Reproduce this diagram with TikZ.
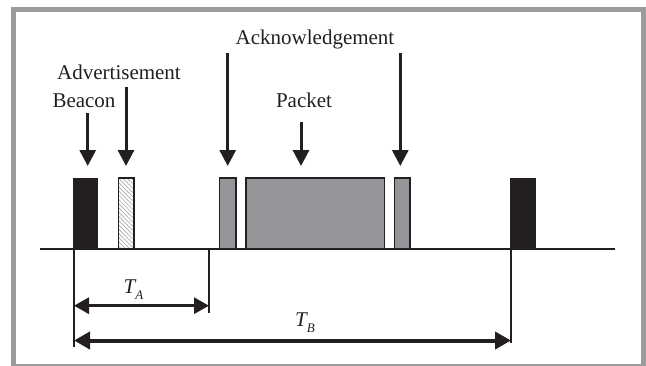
\documentclass[tikz,border=0pt]{standalone}
\usepackage{fontspec}
\setmainfont{Liberation Serif}
\usetikzlibrary{arrows.meta,patterns.meta}
\definecolor{ink}{HTML}{231F20}
\definecolor{slotgray}{HTML}{939598}
\definecolor{framegray}{HTML}{9B9B9B}
\definecolor{hatchgray}{HTML}{A7A9AC}
\tikzset{
  x=1pt, y=-1pt,
  txt/.style={inner sep=0, anchor=base, text=ink, font=\fontsize{21}{25}\selectfont},
  blockbase/.style={inner sep=0, outer sep=0, anchor=south west, minimum height=71},
  beaconbox/.style={blockbase, draw=ink, fill=ink, line width=0.8pt},
  advbox/.style={blockbase, draw=ink, line width=1.5pt,
    pattern={Lines[angle=-45,distance=3pt,line width=0.7pt]}, pattern color=hatchgray},
  slotbox/.style={blockbase, draw=ink, fill=slotgray, line width=1.5pt},
  downarrow/.style={draw=ink, line width=3pt, -{Triangle[length=16pt,width=16pt]}},
  tickline/.style={draw=ink, line width=1.2pt},
  spanA/.style={draw=ink, line width=3pt,
    {Triangle[length=15pt,width=16pt]}-{Triangle[length=15pt,width=16pt]}},
  spanB/.style={draw=ink, line width=4pt,
    {Triangle[length=16pt,width=17pt]}-{Triangle[length=16pt,width=17pt]}},
}
\begin{document}
\begin{tikzpicture}
  \clip (0,0) rectangle (646,365);
  % outer frame
  \draw[framegray, line width=5pt] (13.5,9.5) rectangle (643.5,366.5);

  % slots on the time line
  \node[beaconbox, minimum width=24]   (beacon1) at (73.3,249)  {};
  \node[advbox,    minimum width=15.7] (adv)     at (118.3,249) {};
  \node[slotbox,   minimum width=16.7] (ack1)    at (219.3,249) {};
  \node[slotbox,   minimum width=138.3](packet)  at (246,249)   {};
  \node[slotbox,   minimum width=15.7] (ack2)    at (394.3,249) {};
  \node[beaconbox, minimum width=24.3] (beacon2) at (510.7,249) {};

  % time axis
  \coordinate (axisL) at (40,249);
  \coordinate (axisR) at (615,249);
  \draw[ink, line width=2.5pt] (axisL) -- (axisR);

  % labels
  \node[txt] (lblAck)    at (315,44)  {Acknowledgement};
  \node[txt] (lblAdv)    at (119,79)  {Advertisement};
  \node[txt] (lblBeacon) at (84,107)  {Beacon};
  \node[txt] (lblPacket) at (304,107) {Packet};

  % pointer arrows
  \coordinate (sBeacon) at (87.7,113);  \coordinate (tBeacon) at (87.7,166);
  \coordinate (sAdv)    at (126,87);    \coordinate (tAdv)    at (126,166);
  \coordinate (sAck1)   at (227.7,53);  \coordinate (tAck1)   at (227.7,166);
  \coordinate (sPacket) at (301,122);   \coordinate (tPacket) at (301,166);
  \coordinate (sAck2)   at (400.3,53);  \coordinate (tAck2)   at (400.3,166);
  \draw[downarrow] (sBeacon) -- (tBeacon);
  \draw[downarrow] (sAdv) -- (tAdv);
  \draw[downarrow] (sAck1) -- (tAck1);
  \draw[downarrow] (sPacket) -- (tPacket);
  \draw[downarrow] (sAck2) -- (tAck2);

  % interval extension lines
  \coordinate (e0top) at (74,249);  \coordinate (e0bot) at (74,347);
  \coordinate (eAtop) at (209,249); \coordinate (eAbot) at (209,313);
  \coordinate (eBtop) at (511,249); \coordinate (eBbot) at (511,343);
  \draw[tickline] (e0top) -- (e0bot);
  \draw[tickline] (eAtop) -- (eAbot);
  \draw[tickline] (eBtop) -- (eBbot);

  % interval arrows
  \coordinate (aL) at (74,305.7);  \coordinate (aR) at (209,305.7);
  \coordinate (bL) at (74,340.5);  \coordinate (bR) at (511,340.5);
  \draw[spanA] (aL) -- (aR);
  \draw[spanB] (bL) -- (bR);
  \node[txt] (lblTA) at (133.5,293) {\itshape T\raisebox{-6pt}{\fontsize{13}{13}\selectfont A}};
  \node[txt] (lblTB) at (305,326)   {\itshape T\raisebox{-6pt}{\fontsize{13}{13}\selectfont B}};
\end{tikzpicture}
\end{document}
